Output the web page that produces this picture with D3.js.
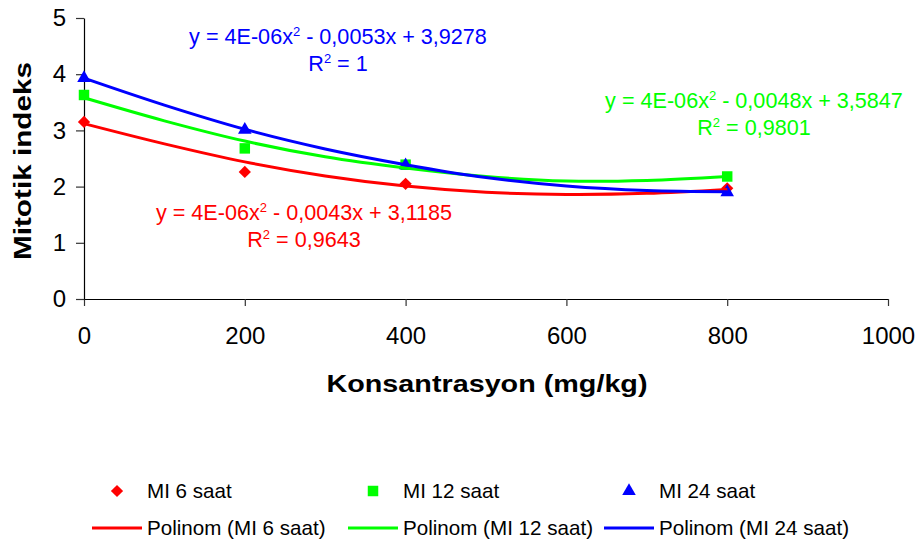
<!DOCTYPE html>
<html>
<head>
<meta charset="utf-8">
<script src="https://cdn.jsdelivr.net/npm/d3@7"></script>
<style>
  body { margin: 0; background: #fff; }
  text { font-family: "Liberation Sans", Arial, sans-serif; }
</style>
</head>
<body>
<script>
const width = 920;
const height = 545;
const margin = { top: 18, right: 32, bottom: 246, left: 84 };

// measured concentrations
const doses = [0, 200, 400, 800];
const mi6 = [3.15, 2.26, 2.05, 1.97];
const mi12 = [3.63, 2.68, 2.39, 2.18];
const mi24 = [3.93, 3.01, 2.38, 1.90];

// trendline every 100 mg/kg
const trendX = [0, 100, 200, 300, 400, 500, 600, 700, 800];
const trend6 = [3.12, 2.76, 2.44, 2.19, 2.01, 1.90, 1.86, 1.88, 1.95];
const trend12 = [3.58, 3.17, 2.81, 2.53, 2.33, 2.18, 2.10, 2.11, 2.18];
const trend24 = [3.93, 3.45, 3.02, 2.67, 2.39, 2.16, 2.01, 1.93, 1.91];

const xTicks = [0, 200, 400, 600, 800, 1000];
const yTicks = [0, 1, 2, 3, 4, 5];

const series = [
  { name: "MI 6 saat", color: "#ff0000", values: mi6, trend: trend6, symbol: "diamond",
    eq: ["y = 4E-06x", " - 0,0043x + 3,1185"], r2: "0,9643" },
  { name: "MI 12 saat", color: "#00ff00", values: mi12, trend: trend12, symbol: "square",
    eq: ["y = 4E-06x", " - 0,0048x + 3,5847"], r2: "0,9801" },
  { name: "MI 24 saat", color: "#0000ff", values: mi24, trend: trend24, symbol: "triangle",
    eq: ["y = 4E-06x", " - 0,0053x + 3,9278"], r2: "1" }
];

const svg = d3.select("body").append("svg")
  .attr("width", width)
  .attr("height", height);

const x = d3.scaleLinear().domain([0, 1000]).range([margin.left, width - margin.right]);
const y = d3.scaleLinear().domain([0, 5]).range([height - margin.bottom, margin.top]);

// axes
const xAxis = svg.append("g")
  .attr("transform", `translate(0,${y(0)})`)
  .call(d3.axisBottom(x).tickValues(xTicks).tickFormat(d3.format("d"))
    .tickSize(7).tickPadding(21).tickSizeOuter(0));
const yAxis = svg.append("g")
  .attr("transform", `translate(${x(0)},0)`)
  .call(d3.axisLeft(y).tickValues(yTicks).tickFormat(d3.format("d"))
    .tickSize(8).tickPadding(10).tickSizeOuter(0));

[xAxis, yAxis].forEach(g => {
  g.select(".domain").attr("stroke", "#000").attr("stroke-width", 1.2);
  g.selectAll(".tick line").attr("stroke", "#333").attr("stroke-width", 1.2);
  g.selectAll(".tick text")
    .attr("fill", "#000")
    .style("font-family", "'Liberation Sans', Arial, sans-serif")
    .style("font-size", "24px");
});

// axis titles
svg.append("text")
  .attr("x", 487)
  .attr("y", 392)
  .attr("text-anchor", "middle")
  .style("font-weight", "bold")
  .style("font-size", "24px")
  .attr("textLength", 321)
  .attr("lengthAdjust", "spacingAndGlyphs")
  .text("Konsantrasyon (mg/kg)");

svg.append("text")
  .attr("transform", "translate(31,161) rotate(-90)")
  .attr("text-anchor", "middle")
  .style("font-weight", "bold")
  .style("font-size", "23px")
  .attr("textLength", 198)
  .attr("lengthAdjust", "spacingAndGlyphs")
  .text("Mitotik indeks");

// markers
function symbolPath(kind) {
  if (kind === "diamond") return d3.symbol().type(d3.symbolSquare).size(75)();
  if (kind === "square") return d3.symbol().type(d3.symbolSquare).size(110)();
  return d3.symbol().type(d3.symbolTriangle).size(80)();
}
function symbolRotate(kind) {
  return kind === "diamond" ? " rotate(45)" : "";
}

series.forEach(s => {
  svg.append("g").selectAll("path")
    .data(doses.map((d, i) => [d, s.values[i]]))
    .join("path")
    .attr("d", symbolPath(s.symbol))
    .attr("transform", d => `translate(${x(d[0])},${y(d[1])})` + symbolRotate(s.symbol))
    .attr("fill", s.color);
});

// polynomial trendlines
const line = d3.line()
  .x(d => x(d[0]))
  .y(d => y(d[1]))
  .curve(d3.curveCatmullRom);

series.forEach(s => {
  svg.append("path")
    .datum(trendX.map((d, i) => [d, s.trend[i]]))
    .attr("d", line)
    .attr("fill", "none")
    .attr("stroke", s.color)
    .attr("stroke-width", 3);
});

// equation labels
const eqCenters = [[304, 220], [754, 108], [338, 44]];
series.forEach((s, i) => {
  const [cx, cy] = eqCenters[i];
  const t1 = svg.append("text")
    .attr("x", cx).attr("y", cy)
    .attr("text-anchor", "middle")
    .attr("fill", s.color)
    .style("font-size", "21.6px");
  t1.append("tspan").text(s.eq[0]);
  t1.append("tspan").attr("dy", -8).style("font-size", "13px").text("2");
  t1.append("tspan").attr("dy", 8).text(s.eq[1]);

  const t2 = svg.append("text")
    .attr("x", cx).attr("y", cy + 27)
    .attr("text-anchor", "middle")
    .attr("fill", s.color)
    .style("font-size", "21.6px");
  t2.append("tspan").text("R");
  t2.append("tspan").attr("dy", -8).style("font-size", "13px").text("2");
  t2.append("tspan").attr("dy", 8).text(" = " + s.r2);
});

// legend
const legendX = [147, 403, 659];
series.forEach((s, i) => {
  const lx = legendX[i];
  svg.append("path")
    .attr("d", symbolPath(s.symbol))
    .attr("transform", `translate(${lx - 30},491)` + symbolRotate(s.symbol))
    .attr("fill", s.color);
  svg.append("text")
    .attr("x", lx).attr("y", 498)
    .style("font-size", "20.6px")
    .text(s.name);

  svg.append("line")
    .attr("x1", lx - 55).attr("x2", lx - 5)
    .attr("y1", 528).attr("y2", 528)
    .attr("stroke", s.color)
    .attr("stroke-width", 3);
  svg.append("text")
    .attr("x", lx).attr("y", 535)
    .style("font-size", "20.6px")
    .text(`Polinom (${s.name})`);
});
</script>
</body>
</html>
